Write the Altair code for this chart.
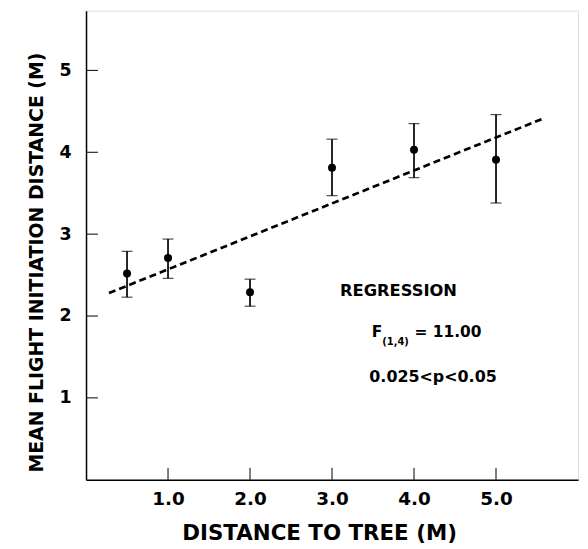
import altair as alt
import pandas as pd

# ---- data ----
distance = [0.5, 1.0, 2.0, 3.0, 4.0, 5.0]
mean_fid = [2.52, 2.71, 2.29, 3.81, 4.03, 3.91]
err_hi = [2.79, 2.94, 2.45, 4.16, 4.35, 4.46]
err_lo = [2.23, 2.46, 2.12, 3.47, 3.69, 3.38]

fit_x = [0.28, 5.57]
fit_y = [2.28, 4.41]

x_ticks = [1, 2, 3, 4, 5]
y_ticks = [1, 2, 3, 4, 5]

x_title = "DISTANCE TO TREE (M)"
y_title = "MEAN FLIGHT INITIATION DISTANCE (M)"
ann_title = "REGRESSION"
ann_f = "F"
ann_sub = "(1,4)"
ann_fval = "= 11.00"
ann_p = "0.025<p<0.05"

FONT = "DejaVu Sans"
W, H = 495, 472

pts = pd.DataFrame({"x": distance, "y": mean_fid, "hi": err_hi, "lo": err_lo})
fit = pd.DataFrame({"x": fit_x, "y": fit_y})
xt = pd.DataFrame({"v": x_ticks})
yt = pd.DataFrame({"v": y_ticks})

xscale = alt.Scale(domain=[0, 6], nice=False, zero=False)
yscale = alt.Scale(domain=[0, 5.73], nice=False, zero=False)

xaxis = alt.Axis(
    values=x_ticks, format=".1f", ticks=False, grid=False,
    labelFont=FONT, labelFontWeight="bold", labelFontSize=18.5, labelColor="black",
    labelPadding=10, domainColor="black", domainWidth=1.5,
    title=x_title, titleFont=FONT, titleFontWeight="bold", titleFontSize=21.5,
    titleColor="black", titlePadding=15, titleX=234.5, titleAlign="center",
)
yaxis = alt.Axis(
    values=y_ticks, format="d", ticks=False, grid=False,
    labelFont=FONT, labelFontWeight="bold", labelFontSize=17.5, labelColor="black",
    labelPadding=15, domainColor="black", domainWidth=1.5,
    title=y_title, titleFont=FONT, titleFontWeight="bold", titleFontSize=19,
    titleColor="black", titleX=-50, titleY=253, titleAngle=270,
    titleAlign="center", titleBaseline="middle",
)

base_pts = alt.Chart(pts)

points = base_pts.mark_circle(size=64, color="black", opacity=1).encode(
    x=alt.X("x:Q", scale=xscale, axis=xaxis),
    y=alt.Y("y:Q", scale=yscale, axis=yaxis),
)
bars = base_pts.mark_rule(color="black", strokeWidth=1.7).encode(
    x=alt.X("x:Q", scale=xscale), y=alt.Y("lo:Q", scale=yscale), y2="hi:Q"
)
cap_hi = base_pts.mark_tick(color="black", orient="horizontal", size=11, thickness=1.2).encode(
    x=alt.X("x:Q", scale=xscale), y=alt.Y("hi:Q", scale=yscale)
)
cap_lo = base_pts.mark_tick(color="black", orient="horizontal", size=11, thickness=1.2).encode(
    x=alt.X("x:Q", scale=xscale), y=alt.Y("lo:Q", scale=yscale)
)
line = alt.Chart(fit).mark_line(color="black", strokeWidth=2.7, strokeDash=[7, 4]).encode(
    x=alt.X("x:Q", scale=xscale), y=alt.Y("y:Q", scale=yscale)
)
xtick_marks = alt.Chart(xt).mark_rule(color="black", strokeWidth=1).encode(
    x=alt.X("v:Q", scale=xscale), y=alt.value(H), y2=alt.value(H - 12)
)
ytick_marks = alt.Chart(yt).mark_rule(color="black", strokeWidth=1).encode(
    y=alt.Y("v:Q", scale=yscale), x=alt.value(0), x2=alt.value(12)
)


def label(txt, px, py, size):
    return alt.Chart(pd.DataFrame({"t": [txt]})).mark_text(
        font=FONT, fontWeight="bold", fontSize=size, color="black",
        align="left", baseline="middle",
    ).encode(text="t:N", x=alt.value(px), y=alt.value(py))


texts = (
    label(ann_title, 255.5, 281.7, 16.4)
    + label(ann_f, 287.5, 323.7, 15.5)
    + label(ann_sub, 298, 333, 10)
    + label(ann_fval, 330.5, 323.7, 15.5)
    + label(ann_p, 285, 369, 16)
)

chart = alt.layer(
    line, bars, cap_hi, cap_lo, points, xtick_marks, ytick_marks, texts
).properties(
    width=W, height=H,
    autosize=alt.AutoSizeParams(type="none"),
    padding={"left": 78.5, "top": 1, "right": 2, "bottom": 66},
).configure_view(stroke=None).configure(background="white")

chart.save("out.html", embed_options={"renderer": "svg", "actions": False})
